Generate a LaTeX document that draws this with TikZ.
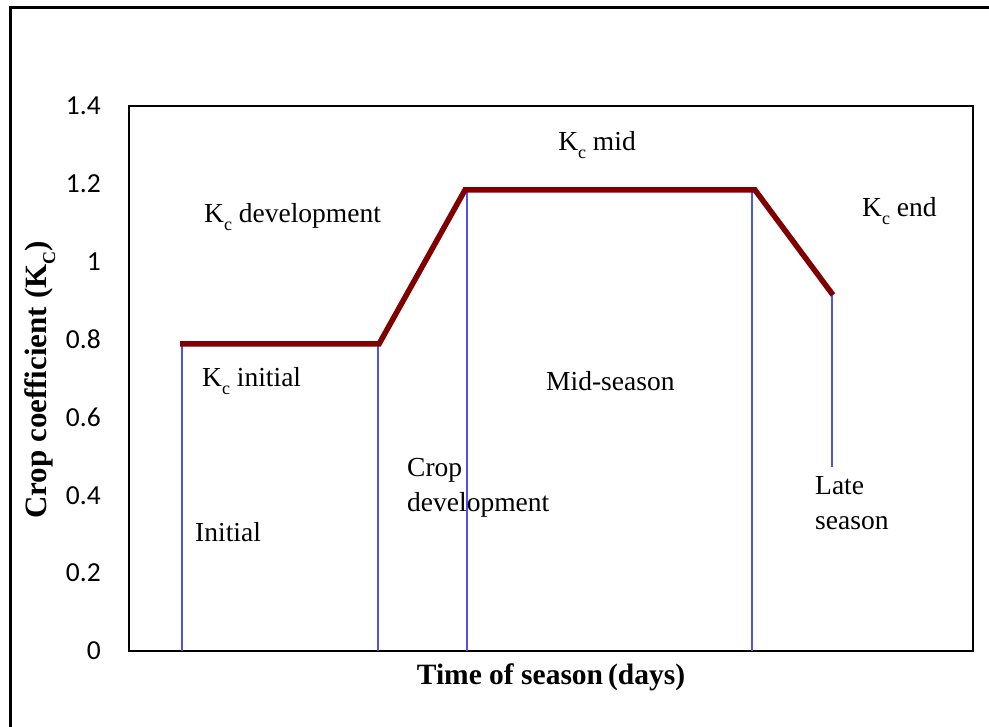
\documentclass[tikz,border=0pt]{standalone}
\usepackage{fontspec}
\setmainfont{Liberation Serif}
\newfontfamily\tickfont{Carlito}
\newcommand\lowsub[1]{\raisebox{-0.28em}{\fontsize{18}{18}\selectfont #1}}
\definecolor{kcred}{RGB}{128,0,0}
\definecolor{stageblue}{RGB}{80,80,245}
\begin{document}
\begin{tikzpicture}[x=1pt,y=-1pt,
  lbl/.style={inner sep=0pt,font=\fontsize{27.5}{35}\selectfont},
  tick/.style={inner sep=0pt,anchor=east,font=\tickfont\fontsize{27.5}{27.5}\selectfont},
  axlbl/.style={inner sep=0pt,font=\bfseries\fontsize{29.5}{32}\selectfont},
  stage/.style={stageblue,line width=1.2pt},
  kc/.style={kcred,line width=5.5pt,line join=miter,line cap=butt}]
\useasboundingbox (0,0) rectangle (989,727);
\fill[white] (0,0) rectangle (989,727);
% outer frame (runs off the right and bottom edges)
\draw[line width=3pt] (10,740) -- (10,8) -- (1000,8);
% plot area
\draw[line width=2pt] (129,106) rectangle (973,651);
% tick labels
\foreach \v/\y in {0/651,0.2/573.1,0.4/495.3,0.6/417.4,0.8/339.6,1/261.7,1.2/183.9,1.4/106}
  \node[tick] at (101,\y) {\v};
% crop coefficient curve
\coordinate (p1) at (180,344);
\coordinate (p2) at (379,344);
\coordinate (p3) at (465,190);
\coordinate (p4) at (755,190);
\coordinate (p5) at (833,295);
\coordinate (b1) at (182,651);
\coordinate (b2) at (378,651);
\coordinate (b3) at (467,651);
\coordinate (b4) at (752,651);
\coordinate (b5) at (832,467);
\draw[stage] (182,344) -- (b1);
\draw[stage] (378,344) -- (b2);
\draw[stage] (467,190) -- (b3);
\draw[stage] (752,190) -- (b4);
\draw[stage] (832,295) -- (b5);
\draw[kc] (p1) -- (p2) -- (p3) -- (p4) -- (p5);
% labels
\node[lbl,anchor=west] (kdev) at (204,217) {K\lowsub{c} development};
\node[lbl] (kmid) at (597,145) {K\lowsub{c} mid};
\node[lbl,anchor=west] (kend) at (862,211) {K\lowsub{c} end};
\node[lbl,anchor=west] (kini) at (202,381) {K\lowsub{c} initial};
\node[lbl,anchor=west] (mid) at (546,381) {Mid-season};
\node[lbl,anchor=west,align=left] (cdev) at (407,488) {Crop\\development};
\node[lbl,anchor=west] (ini) at (195,532) {Initial};
\node[lbl,anchor=west,align=left] (late) at (815,503) {Late\\season};
% axis titles
\node[axlbl] (xt) at (551,677) {Time of season\,(days)};
\node[axlbl,rotate=90,font=\bfseries\fontsize{31}{32}\selectfont] (yt) at (40,380) {Crop coefficient (K\lowsub{C})};
\end{tikzpicture}
\end{document}
